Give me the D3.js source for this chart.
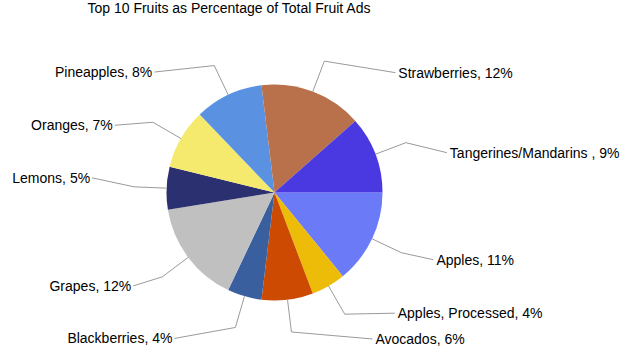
<!DOCTYPE html>
<html>
<head>
<meta charset="utf-8">
<script src="https://cdn.jsdelivr.net/npm/d3@7"></script>
<style>
  body { margin: 0; background: #fff; }
  text { font-family: "Liberation Sans", Arial, sans-serif; fill: #000; }
</style>
</head>
<body>
<svg width="626" height="355"></svg>
<script>
// chart data, clockwise from 3 o'clock
const fruits = ["Apples", "Apples, Processed", "Avocados", "Blackberries", "Grapes",
  "Lemons", "Oranges", "Pineapples", "Strawberries", "Tangerines/Mandarins "];
const shares = [11, 4, 6, 4, 12, 5, 7, 8, 12, 9];
const colors = ["#6b7af7", "#edbc08", "#cc4a02", "#3a5f9e", "#c0c0c0",
  "#2b3170", "#f5e96e", "#5a91e0", "#b8714a", "#4a39e1"];

// where each leader line ends, relative to its elbow
const labelOffsets = [[32, 7], [50, -1], [81, 7], [-61, 11], [-29, 9],
  [-42, -9], [-38, 3], [-60, 6.5], [71, 11.5], [41, 10]];

const svg = d3.select("svg");
const cx = 274.5, cy = 192.5, radius = 108, elbow = 140.5;

svg.append("text")
    .attr("x", 229)
    .attr("y", 13)
    .attr("text-anchor", "middle")
    .style("font-size", "14px")
    .text("Top 10 Fruits as Percentage of Total Fruit Ads");

const data = fruits.map((f, i) => ({ name: f, value: shares[i], color: colors[i], off: labelOffsets[i] }));

const pie = d3.pie()
    .sort(null)
    .value(d => d.value)
    .startAngle(Math.PI / 2)
    .endAngle(Math.PI / 2 + 2 * Math.PI);

const arc = d3.arc().innerRadius(0).outerRadius(radius);
const edgeArc = d3.arc().innerRadius(radius).outerRadius(radius);
const elbowArc = d3.arc().innerRadius(elbow).outerRadius(elbow);

const g = svg.append("g").attr("transform", "translate(" + cx + "," + cy + ")");
const slices = pie(data);

g.selectAll(".slice")
    .data(slices)
    .enter().append("path")
    .attr("class", "slice")
    .attr("d", arc)
    .style("fill", d => d.data.color);

// leader lines: edge -> elbow -> label
g.selectAll(".leader")
    .data(slices)
    .enter().append("polyline")
    .attr("class", "leader")
    .attr("points", function (d) {
        var a = edgeArc.centroid(d);
        var b = elbowArc.centroid(d);
        var c = [b[0] + d.data.off[0], b[1] + d.data.off[1]];
        return [a, b, c].map(p => p.join(",")).join(" ");
    })
    .style("fill", "none")
    .style("stroke", "#9a9a9a")
    .style("stroke-width", 1);

g.selectAll(".label")
    .data(slices)
    .enter().append("text")
    .attr("class", "label")
    .attr("x", function (d) {
        var b = elbowArc.centroid(d);
        var right = d.data.off[0] > 0;
        return b[0] + d.data.off[0] + (right ? 3 : -2);
    })
    .attr("y", function (d) {
        var b = elbowArc.centroid(d);
        return b[1] + d.data.off[1];
    })
    .attr("dy", "0.35em")
    .attr("text-anchor", d => d.data.off[0] > 0 ? "start" : "end")
    .style("font-size", "14px")
    .text(d => d.data.name + ", " + d.data.value + "%");
</script>
</body>
</html>
